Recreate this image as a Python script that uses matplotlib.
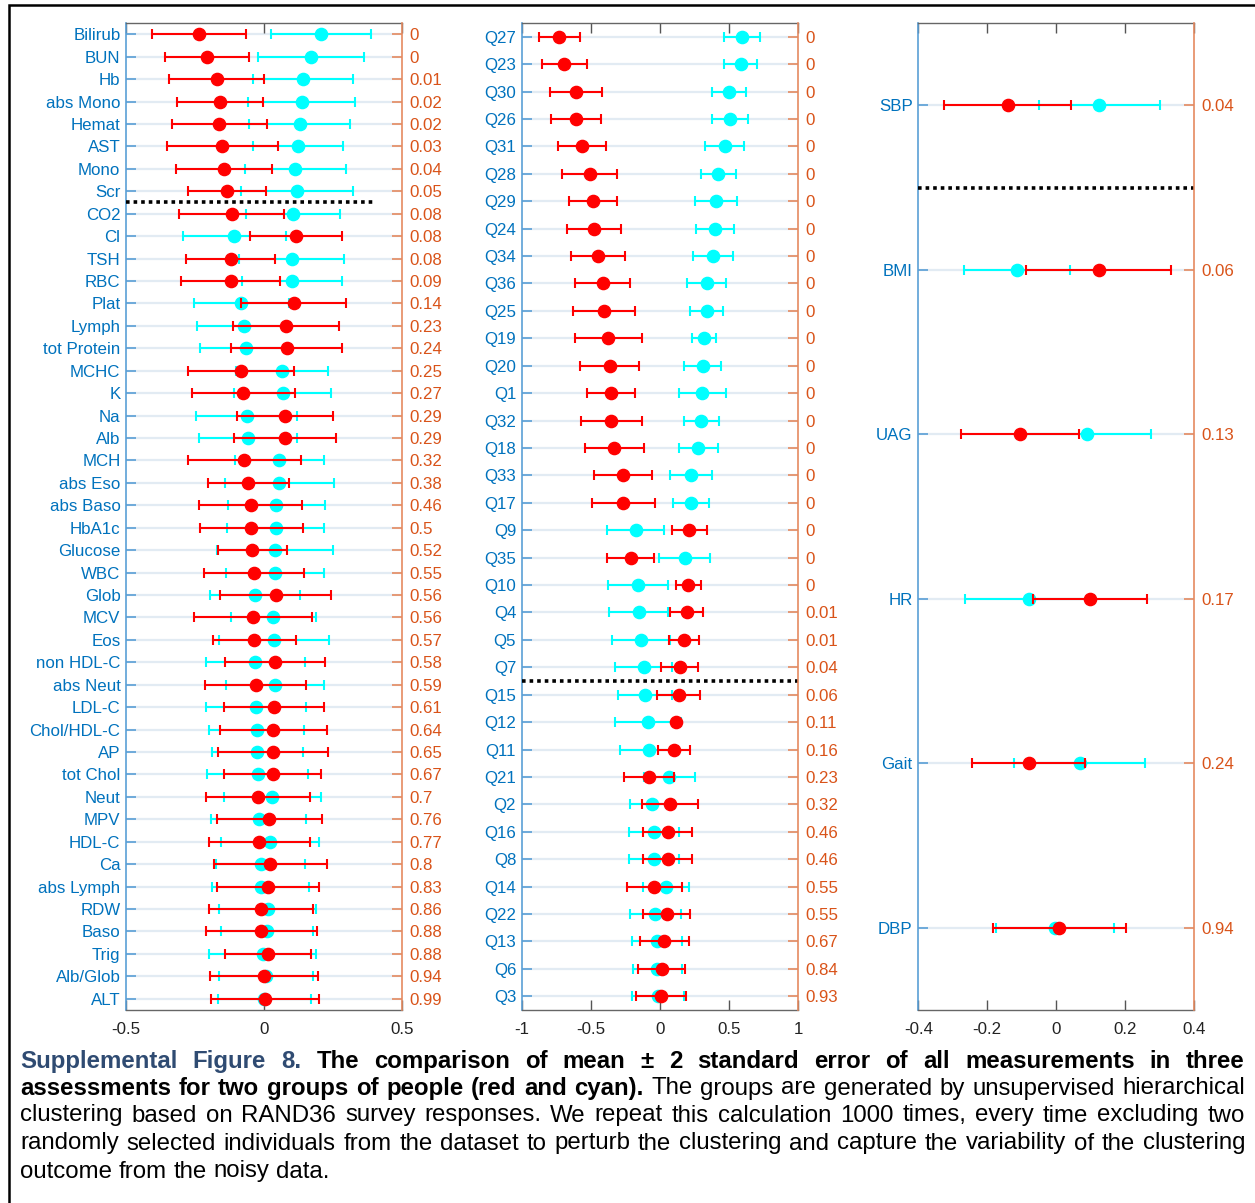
import matplotlib
matplotlib.use("Agg")
import matplotlib.pyplot as plt
import numpy as np
from matplotlib.patches import Rectangle

plt.rcParams['font.family'] = ['Liberation Sans', 'DejaVu Sans']
plt.rcParams['axes.unicode_minus'] = False

# ---------------- data: left panel (lab measurements) ----------------
left_labels = ["Bilirub", "BUN", "Hb", "abs Mono", "Hemat", "AST", "Mono", "Scr", "CO2", "Cl",
               "TSH", "RBC", "Plat", "Lymph", "tot Protein", "MCHC", "K", "Na", "Alb", "MCH",
               "abs Eso", "abs Baso", "HbA1c", "Glucose", "WBC", "Glob", "MCV", "Eos", "non HDL-C",
               "abs Neut", "LDL-C", "Chol/HDL-C", "AP", "tot Chol", "Neut", "MPV", "HDL-C", "Ca",
               "abs Lymph", "RDW", "Baso", "Trig", "Alb/Glob", "ALT"]
left_pvals = ["0", "0", "0.01", "0.02", "0.02", "0.03", "0.04", "0.05", "0.08", "0.08",
              "0.08", "0.09", "0.14", "0.23", "0.24", "0.25", "0.27", "0.29", "0.29", "0.32",
              "0.38", "0.46", "0.5", "0.52", "0.55", "0.56", "0.56", "0.57", "0.58",
              "0.59", "0.61", "0.64", "0.65", "0.67", "0.7", "0.76", "0.77", "0.8",
              "0.83", "0.86", "0.88", "0.88", "0.94", "0.99"]
left_red_mean = [-0.235, -0.205, -0.171, -0.161, -0.162, -0.151, -0.146, -0.134, -0.117, 0.116,
                 -0.121, -0.120, 0.107, 0.080, 0.083, -0.083, -0.075, 0.076, 0.077, -0.071,
                 -0.057, -0.048, -0.046, -0.042, -0.036, 0.042, -0.041, -0.035, 0.040,
                 -0.030, 0.036, 0.034, 0.033, 0.031, -0.021, 0.019, -0.017, 0.023,
                 0.016, -0.010, -0.010, 0.013, -0.001, 0.004]
left_red_err = [0.170, 0.152, 0.172, 0.156, 0.172, 0.200, 0.174, 0.141, 0.190, 0.165,
                0.160, 0.179, 0.189, 0.191, 0.201, 0.193, 0.186, 0.175, 0.184, 0.204,
                0.147, 0.186, 0.186, 0.124, 0.182, 0.201, 0.214, 0.151, 0.180,
                0.183, 0.180, 0.195, 0.199, 0.177, 0.188, 0.190, 0.184, 0.205,
                0.185, 0.189, 0.201, 0.156, 0.195, 0.195]
left_cyan_mean = [0.207, 0.170, 0.141, 0.136, 0.130, 0.123, 0.114, 0.120, 0.106, -0.107,
                  0.100, 0.101, -0.082, -0.074, -0.066, 0.065, 0.068, -0.062, -0.058, 0.056,
                  0.056, 0.045, 0.042, 0.041, 0.040, -0.033, 0.034, 0.036, -0.031,
                  0.039, -0.030, -0.027, -0.024, -0.023, 0.030, -0.019, 0.022, -0.012,
                  -0.012, 0.013, 0.011, -0.005, 0.007, 0.001]
left_cyan_err = [0.180, 0.193, 0.181, 0.193, 0.183, 0.162, 0.182, 0.202, 0.171, 0.187,
                 0.191, 0.180, 0.173, 0.170, 0.165, 0.168, 0.176, 0.183, 0.176, 0.160,
                 0.199, 0.175, 0.176, 0.210, 0.179, 0.163, 0.153, 0.199, 0.180,
                 0.177, 0.181, 0.171, 0.166, 0.182, 0.175, 0.172, 0.178, 0.162,
                 0.176, 0.175, 0.167, 0.195, 0.170, 0.169]

# ---------------- data: middle panel (survey questions) ----------------
mid_labels = ["Q27", "Q23", "Q30", "Q26", "Q31", "Q28", "Q29", "Q24", "Q34", "Q36", "Q25", "Q19",
              "Q20", "Q1", "Q32", "Q18", "Q33", "Q17", "Q9", "Q35", "Q10", "Q4", "Q5", "Q7",
              "Q15", "Q12", "Q11", "Q21", "Q2", "Q16", "Q8", "Q14", "Q22", "Q13", "Q6", "Q3"]
mid_pvals = ["0"] * 21 + ["0.01", "0.01", "0.04", "0.06", "0.11", "0.16", "0.23", "0.32",
                          "0.46", "0.46", "0.55", "0.55", "0.67", "0.84", "0.93"]
mid_red_mean = [-0.728, -0.692, -0.607, -0.605, -0.564, -0.508, -0.487, -0.480, -0.448, -0.414,
                -0.407, -0.373, -0.364, -0.357, -0.352, -0.330, -0.267, -0.265, 0.212, -0.212,
                0.205, 0.193, 0.173, 0.142, 0.135, 0.118, 0.101, -0.082, 0.070, 0.055,
                0.055, -0.041, 0.048, 0.031, 0.012, 0.007]
mid_red_err = [0.149, 0.163, 0.189, 0.180, 0.175, 0.198, 0.173, 0.196, 0.195, 0.199,
               0.223, 0.245, 0.212, 0.174, 0.219, 0.212, 0.207, 0.228, 0.125, 0.169,
               0.091, 0.118, 0.111, 0.134, 0.157, 0.010, 0.113, 0.180, 0.203, 0.175,
               0.175, 0.199, 0.171, 0.179, 0.168, 0.182]
mid_cyan_mean = [0.593, 0.583, 0.501, 0.504, 0.467, 0.422, 0.405, 0.395, 0.381, 0.337,
                 0.337, 0.316, 0.308, 0.306, 0.299, 0.277, 0.224, 0.222, -0.176, 0.178,
                 -0.161, -0.154, -0.140, -0.116, -0.108, -0.087, -0.080, 0.067, -0.058, -0.043,
                 -0.043, 0.041, -0.034, -0.024, -0.019, -0.012]
mid_cyan_err = [0.127, 0.121, 0.122, 0.129, 0.139, 0.128, 0.153, 0.138, 0.145, 0.143,
                0.117, 0.087, 0.136, 0.168, 0.128, 0.139, 0.152, 0.130, 0.207, 0.186,
                0.218, 0.212, 0.209, 0.206, 0.198, 0.236, 0.209, 0.186, 0.159, 0.181,
                0.181, 0.166, 0.183, 0.180, 0.176, 0.188]

# ---------------- data: right panel (vitals) ----------------
right_labels = ["SBP", "BMI", "UAG", "HR", "Gait", "DBP"]
right_pvals = ["0.04", "0.06", "0.13", "0.17", "0.24", "0.94"]
right_red_mean = [-0.141, 0.123, -0.105, 0.099, -0.080, 0.009]
right_red_err = [0.184, 0.210, 0.172, 0.165, 0.164, 0.193]
right_cyan_mean = [0.125, -0.113, 0.089, -0.078, 0.068, -0.003]
right_cyan_err = [0.175, 0.154, 0.186, 0.187, 0.190, 0.172]

# separators (row after which the dotted line is drawn)
left_split_after, left_split_xmax = 8, 0.4
mid_split_after = 24
right_split_after = 1

left_xticks = [-0.5, 0, 0.5]
mid_xticks = [-1, -0.5, 0, 0.5, 1]
right_xticks = [-0.4, -0.2, 0, 0.2, 0.4]

# ---------------- styling ----------------
W, H = 1255, 1203
BLUE_TXT = '#0072BD'
BLUE_SP = '#5a9fd6'
ORANGE_TXT = '#D95319'
ORANGE_SP = '#e58a60'
GRID = '#e2ebf3'
RED = '#ff0000'
CYAN = '#00ffff'

fig = plt.figure(figsize=(W / 100, H / 100), dpi=100)

def px_axes(x0, x1, y0, y1):
    return fig.add_axes([x0 / W, 1 - y1 / H, (x1 - x0) / W, (y1 - y0) / H])


def panel(rect, labels, pvals, rm, re, cm, ce, xlim, xticks, split_after, split_xmax=None):
    ax = px_axes(*rect)
    n = len(labels)
    y = np.arange(1, n + 1)
    ax.set_xlim(*xlim)
    ax.set_ylim(n + 0.5, 0.5)
    for yy in y:
        ax.axhline(yy, color=GRID, lw=1.6, zorder=0)
    ax.errorbar(cm, y, xerr=ce, fmt='o', color=CYAN, ecolor=CYAN, ms=8.8,
                elinewidth=1.5, capsize=3.8, capthick=1.5, zorder=3)
    ax.errorbar(rm, y, xerr=re, fmt='o', color=RED, ecolor=RED, ms=8.8,
                elinewidth=1.5, capsize=3.8, capthick=1.5, zorder=4)
    xe = xlim[1] if split_xmax is None else split_xmax
    ax.plot([xlim[0], xe], [split_after + 0.5] * 2, color='black', lw=2.6,
            linestyle=(0, (1, 1.1)), zorder=5, clip_on=False)
    ax.set_yticks(y)
    ax.set_yticklabels(labels, color=BLUE_TXT, fontsize=12.2)
    ax.set_xticks(xticks)
    ax.set_xticklabels([f"{t:g}" for t in xticks], fontsize=12.2, color='#222222')
    ax.tick_params(axis='y', direction='in', length=7.5, width=1.2, color=BLUE_SP,
                   pad=4, left=True, right=False)
    ax.tick_params(axis='x', direction='in', length=7, width=1.0, color='#555555',
                   top=True, bottom=True, pad=9)
    ax.spines['left'].set_color(BLUE_SP)
    ax.spines['left'].set_linewidth(1.2)
    ax.spines['right'].set_visible(False)
    for s in ('top', 'bottom'):
        ax.spines[s].set_color('#666666')
        ax.spines[s].set_linewidth(1.0)

    ax2 = ax.twinx()
    ax2.set_ylim(ax.get_ylim())
    ax2.set_yticks(y)
    ax2.set_yticklabels(pvals, color=ORANGE_TXT, fontsize=12.2)
    ax2.tick_params(axis='y', direction='in', length=7.5, width=1.2, color=ORANGE_SP, pad=5)
    for s in ('left', 'top', 'bottom'):
        ax2.spines[s].set_visible(False)
    ax2.spines['right'].set_color(ORANGE_SP)
    ax2.spines['right'].set_linewidth(1.2)
    return ax


panel((126, 402, 23, 1010), left_labels, left_pvals, left_red_mean, left_red_err,
      left_cyan_mean, left_cyan_err, (-0.5, 0.5), left_xticks, left_split_after, left_split_xmax)
panel((521.7, 798.3, 23, 1010), mid_labels, mid_pvals, mid_red_mean, mid_red_err,
      mid_cyan_mean, mid_cyan_err, (-1, 1), mid_xticks, mid_split_after)
panel((918.3, 1194, 23, 1010), right_labels, right_pvals, right_red_mean, right_red_err,
      right_cyan_mean, right_cyan_err, (-0.4, 0.4), right_xticks, right_split_after)

# ---------------- frame ----------------
fig.patches.append(Rectangle((9 / W, -0.05), 1.2, 1 - 5 / H + 0.05, transform=fig.transFigure,
                             fill=False, edgecolor='black', lw=1.8))

# ---------------- caption (justified) ----------------
CAP_BLUE = '#2f4b72'
FS = 17.3
lines = [
    ([("Supplemental Figure 8.", 'bold', CAP_BLUE),
      ("The comparison of mean ± 2 standard error of all measurements in three", 'bold', 'black')], True),
    ([("assessments for two groups of people (red and cyan).", 'bold', 'black'),
      ("The groups are generated by unsupervised hierarchical", 'normal', 'black')], True),
    ([("clustering based on RAND36 survey responses. We repeat this calculation 1000 times, every time excluding two", 'normal', 'black')], True),
    ([("randomly selected individuals from the dataset to perturb the clustering and capture the variability of the clustering", 'normal', 'black')], True),
    ([("outcome from the noisy data.", 'normal', 'black')], False),
]
line_y = [1060, 1087, 1114, 1142, 1170]
x_left, x_right = 20, 1245

renderer = fig.canvas.get_renderer()
for (segs, justify), yc in zip(lines, line_y):
    words = []
    for text, wt, col in segs:
        for w in text.split(' '):
            words.append((w, wt, col))
    objs = []
    for w, wt, col in words:
        t = fig.text(0, 1 - yc / H, w, fontsize=FS, fontweight=wt, color=col,
                     va='center_baseline', ha='left')
        objs.append(t)
    widths = [t.get_window_extent(renderer).width for t in objs]
    space = renderer.points_to_pixels(FS) * 0.278
    if justify:
        gap = (x_right - x_left - sum(widths)) / (len(objs) - 1)
        if gap < space * 0.6:
            gap = space * 0.6
    else:
        gap = space
    x = x_left
    for t, wd in zip(objs, widths):
        t.set_x(x / W)
        t.set_y(1 - (yc - 1) / H)
        x += wd + gap

fig.savefig("out.png", dpi=100)
